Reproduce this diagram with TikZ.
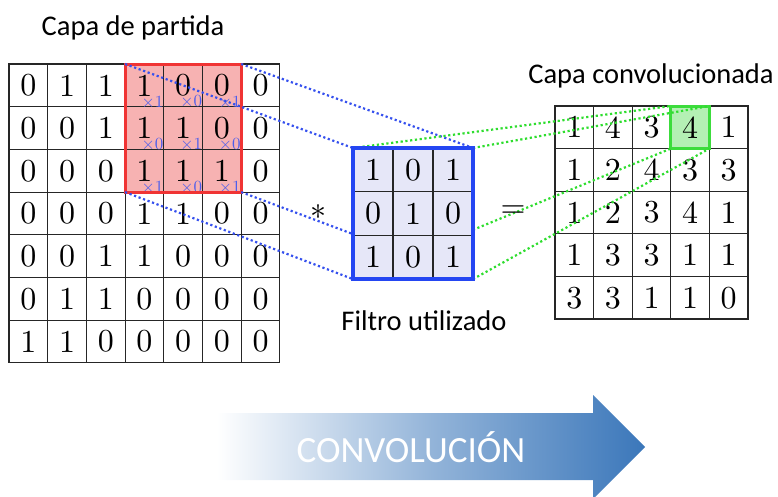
\documentclass[tikz,border=0pt]{standalone}
\usepackage{fontspec}
\usepackage{xcolor}
\newfontfamily\labelfont{Carlito}
\newfontfamily\digitfont{lmroman10-regular}[Extension=.otf]
\usetikzlibrary{
    calc,
    positioning
}

\definecolor{winred}{HTML}{F03434}
\definecolor{winfill}{HTML}{F7B2B2}
\definecolor{filtblue}{HTML}{2446F2}
\definecolor{filtfill}{HTML}{E6E7F8}
\definecolor{linkblue}{HTML}{3550EE}
\definecolor{linkgreen}{HTML}{2EDD2E}
\definecolor{hlgreen}{HTML}{3CDC3C}
\definecolor{hlfill}{HTML}{B4F0B4}
\definecolor{multblue}{HTML}{4D5EEC}
\definecolor{arrowblue}{HTML}{3B77BA}

\tikzset{
    cell/.style={draw=black!85, line width=1.1pt, inner sep=0pt, outer sep=0pt,
        font=\digitfont\fontsize{32}{32}\selectfont},
    incell/.style={cell, minimum width=38.7pt, minimum height=42.7pt},
    filtcell/.style={cell, fill=filtfill, minimum width=40pt, minimum height=43.7pt},
    outcell/.style={cell, minimum width=38.6pt, minimum height=42.6pt},
    mult/.style={text=multblue, inner sep=0pt, font=\digitfont\fontsize{17}{17}\selectfont},
    caption/.style={anchor=base, inner sep=0pt, font=\labelfont\fontsize{28.5}{28.5}\selectfont},
    bluelink/.style={linkblue, line width=2.2pt, dash pattern=on 2.2pt off 2.6pt},
    greenlink/.style={linkgreen, line width=2.2pt, dash pattern=on 2.2pt off 2.6pt}
}

\begin{document}
\begin{tikzpicture}[x=1pt, y=-1pt]
    \useasboundingbox (0, 0) rectangle (778, 496);

    % entrada
    \fill[winfill] (125.1, 64) rectangle (241.2, 192.1);
    \foreach \row [count=\i from 0] in {{0,1,1,1,0,0,0},{0,0,1,1,1,0,0},{0,0,0,1,1,1,0},
        {0,0,0,1,1,0,0},{0,0,1,1,0,0,0},{0,1,1,0,0,0,0},{1,1,0,0,0,0,0}} {
        \foreach \v [count=\j from 0] in \row {
            \node[incell] (in-\i-\j) at ({28.35+38.7*\j}, {85.35+42.7*\i}) {\v};
        }
    }
    \foreach \i/\j/\k in {0/3/1, 0/4/0, 0/5/1, 1/3/0, 1/4/1, 1/5/0, 2/3/1, 2/4/0, 2/5/1}
        \node[mult, xshift=8pt, yshift=-16pt] (m-\i-\j) at (in-\i-\j) {×\k};
    \node[draw=winred, line width=3pt, inner sep=0pt, outer sep=0pt,
        minimum width=116.1pt, minimum height=128.1pt] (win) at (183.15, 128.05) {};

    % salida
    \foreach \row [count=\i from 0] in {{1,4,3,4,1},{1,2,4,3,3},{1,2,3,4,1},{1,3,3,1,1},{3,3,1,1,0}} {
        \foreach \v [count=\j from 0] in \row {
            \node[outcell] (out-\i-\j) at ({574.3+38.6*\j}, {127.3+42.6*\i}) {\v};
        }
    }
    \fill[hlfill] (out-0-3.north west) rectangle (out-0-3.south east);
    \node[outcell] at (out-0-3) {4};
    \node[draw=hlgreen, line width=3pt, inner sep=0pt, outer sep=0pt,
        minimum width=38.6pt, minimum height=42.6pt] (hl) at (out-0-3) {};

    % filtro (marco)
    \node[inner sep=0pt, outer sep=0pt, minimum width=120pt, minimum height=131.1pt] (filt) at (413, 213.55) {};

    \draw[bluelink] (win.north west) -- (filt.north west);
    \draw[bluelink] (win.north east) -- (filt.north east);
    \draw[bluelink] (win.south west) -- (filt.south west);
    \draw[bluelink] (win.south east) -- (filt.south east);
    \draw[greenlink] (filt.north west) -- (hl.north west);
    \draw[greenlink] (filt.north east) -- (hl.north east);
    \draw[greenlink] (filt.south west) -- (hl.south west);
    \draw[greenlink] (filt.south east) -- (hl.south east);

    \foreach \row [count=\i from 0] in {{1,0,1},{0,1,0},{1,0,1}} {
        \foreach \v [count=\j from 0] in \row {
            \node[filtcell] (f-\i-\j) at ({373+40*\j}, {169.85+43.7*\i}) {\v};
        }
    }
    \draw[filtblue, line width=3.4pt] (filt.north west) rectangle (filt.south east);

    \node[font=\digitfont\fontsize{32}{32}\selectfont] (ast) at (318, 212) {∗};
    \node[font=\digitfont\fontsize{32}{32}\selectfont] (eq) at (513, 212) {=};

    \node[caption] (t-in) at (133, 35) {Capa de partida};
    \node[caption] (t-out) at (651, 83) {Capa convolucionada};
    \node[caption] (t-filt) at (424, 330) {Filtro utilizado};

    % flecha
    \shade[left color=white, right color=arrowblue, middle color=arrowblue!55]
        (217, 413) -- (593, 413) -- (593, 395) -- (645, 447) -- (593, 499)
        -- (593, 480) -- (217, 480) -- cycle;
    \node[text=white, font=\labelfont\fontsize{37}{37}\selectfont] (conv) at (411, 447) {CONVOLUCIÓN};
\end{tikzpicture}
\end{document}
